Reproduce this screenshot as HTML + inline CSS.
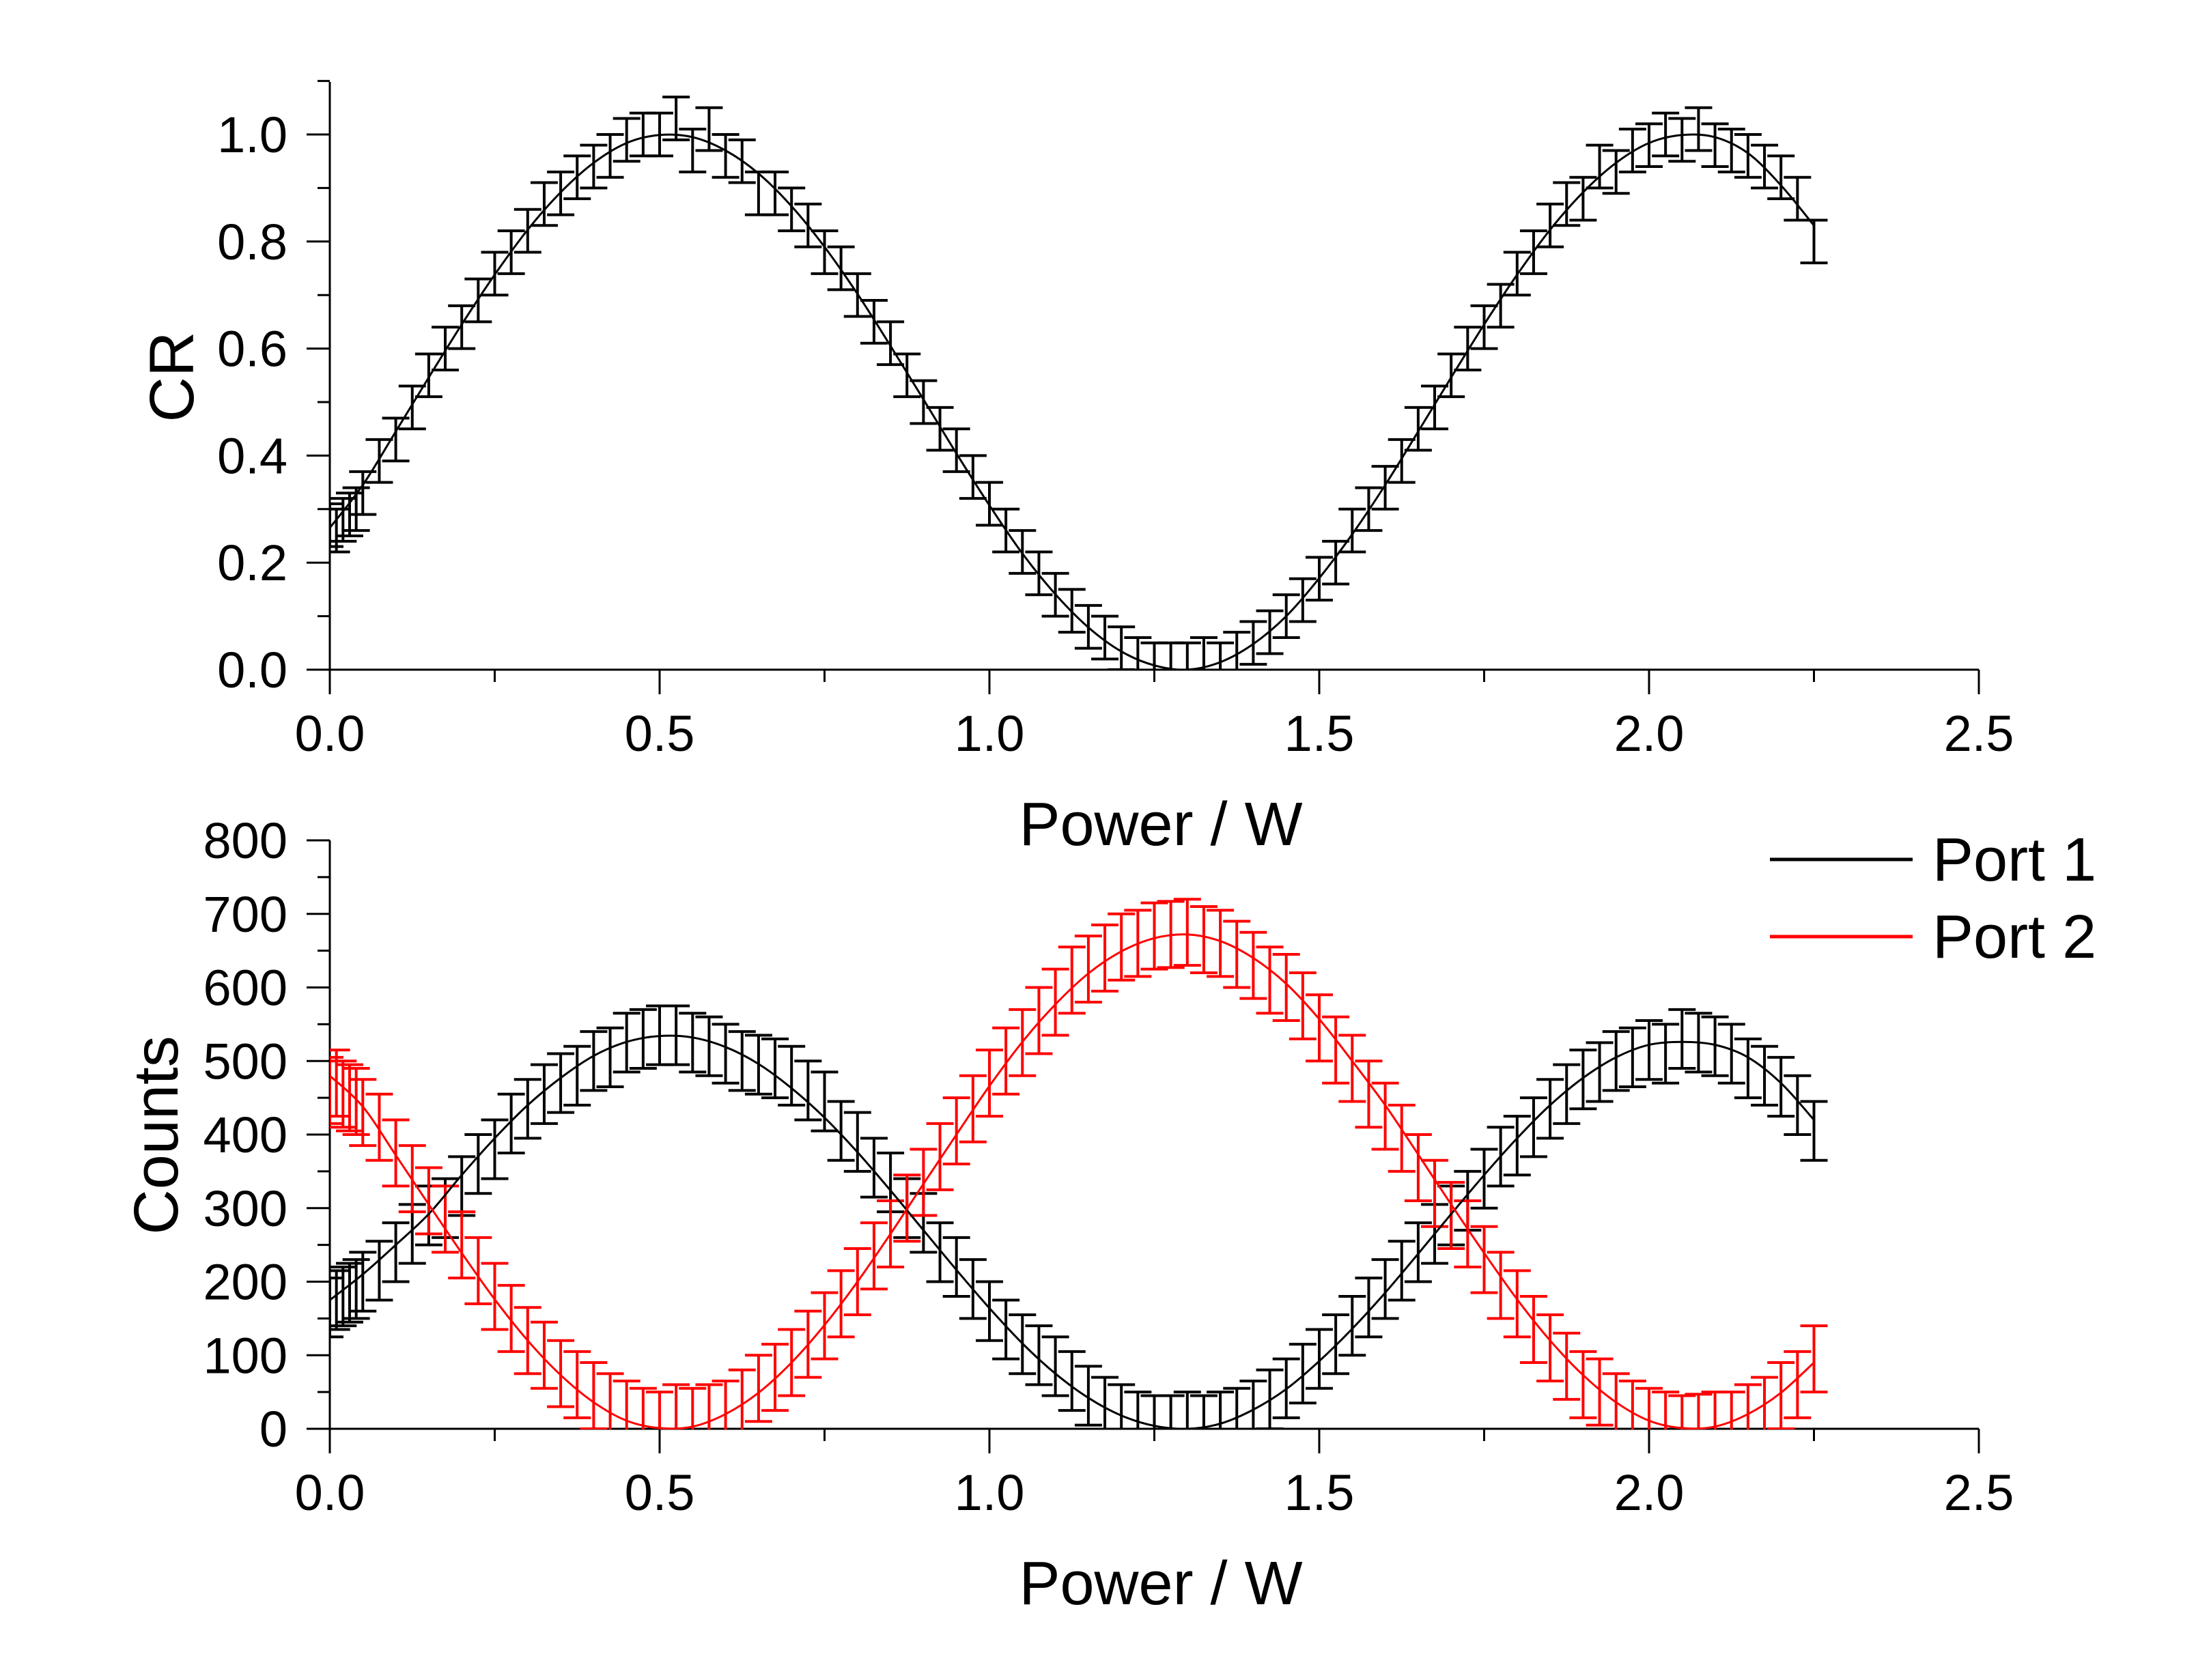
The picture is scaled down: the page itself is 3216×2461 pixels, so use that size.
<!DOCTYPE html>
<html><head><meta charset="utf-8"><style>
html,body{margin:0;padding:0;background:#fff;}
svg{display:block;font-family:"Liberation Sans",Arial,sans-serif;}
</style></head><body>
<svg id="chart" width="3216" height="2461" viewBox="0 0 3216 2461" xmlns="http://www.w3.org/2000/svg">
<rect width="3216" height="2461" fill="#fff"/>
<defs>
<clipPath id="clipTop"><rect x="483" y="100" width="2415" height="882"/></clipPath>
<clipPath id="clipBot"><rect x="483" y="1200" width="2415" height="894"/></clipPath>
</defs>
<g id="topPanel"></g>
<g id="botPanel"></g>
<g>
<line x1="2592" y1="1259" x2="2801" y2="1259" stroke="#000" stroke-width="5"/>
<text x="2830" y="1290" font-size="90">Port 1</text>
<line x1="2592" y1="1372" x2="2801" y2="1372" stroke="#f00" stroke-width="5"/>
<text x="2830" y="1403" font-size="90">Port 2</text>
</g>
</svg>
<script>
const xData=[0,0.01,0.02,0.03,0.04,0.05,0.075,0.1,0.125,0.15,0.175,0.2,0.225,0.25,0.275,0.3,0.325,0.35,0.375,0.4,0.425,0.45,0.475,0.5,0.525,0.55,0.575,0.6,0.625,0.65,0.675,0.7,0.725,0.75,0.775,0.8,0.825,0.85,0.875,0.9,0.925,0.95,0.975,1.0,1.025,1.05,1.075,1.1,1.125,1.15,1.175,1.2,1.225,1.25,1.275,1.3,1.325,1.35,1.375,1.4,1.425,1.45,1.475,1.5,1.525,1.55,1.575,1.6,1.625,1.65,1.675,1.7,1.725,1.75,1.775,1.8,1.825,1.85,1.875,1.9,1.925,1.95,1.975,2.0,2.025,2.05,2.075,2.1,2.125,2.15,2.175,2.2,2.225,2.25];
const crData=[.27,.26,.28,.29,.30,.33,.39,.43,.49,.55,.60,.64,.69,.74,.78,.82,.87,.89,.92,.94,.96,.99,1.00,1.00,1.03,.97,1.01,.96,.95,.89,.89,.86,.83,.78,.75,.70,.65,.61,.55,.50,.45,.41,.36,.31,.26,.22,.18,.14,.11,.08,.06,.04,.02,.01,.01,.01,.02,.01,.03,.05,.07,.10,.13,.17,.20,.26,.30,.34,.39,.45,.49,.55,.60,.64,.68,.74,.78,.83,.87,.88,.94,.93,.97,.98,1.00,.99,1.01,.98,.97,.96,.94,.92,.88,.80];
const crErr=0.04;
const port1Data=[165,175,180,185,190,200,215,240,265,290,300,330,360,380,415,435,455,470,480,500,505,525,530,535,535,525,520,510,500,495,490,480,460,445,405,390,355,335,300,280,240,220,190,160,135,115,100,85,65,45,30,20,10,5,5,10,5,10,15,25,40,55,75,95,115,140,165,190,215,240,265,290,310,340,370,385,410,435,455,475,485,500,505,515,510,530,525,520,510,490,480,465,440,405];
const port1Err=40;
const port2Data=[460,470,455,450,445,430,410,375,340,310,285,250,215,180,150,120,100,75,60,45,30,20,10,5,15,10,15,20,35,55,70,90,115,140,170,200,235,265,300,335,370,405,435,470,500,525,555,580,610,625,640,655,660,670,672,675,665,660,645,630,610,600,575,545,515,490,455,425,395,355,320,290,265,230,195,170,135,110,85,60,50,30,20,10,5,0,2,5,5,15,25,45,60,95];
const port2Err=45;
const xFit=[0,0.05,0.1,0.15,0.2,0.25,0.3,0.35,0.4,0.45,0.5,0.55,0.6,0.65,0.7,0.75,0.8,0.85,0.9,0.95,1.0,1.05,1.1,1.15,1.2,1.25,1.3,1.35,1.4,1.45,1.5,1.55,1.6,1.65,1.7,1.75,1.8,1.85,1.9,1.95,2.0,2.05,2.1,2.15,2.2,2.25];
const crFit=[.265,.345,.445,.546,.645,.738,.822,.892,.947,.984,.999,.995,.970,.927,.866,.790,.702,.605,.505,.404,.307,.217,.141,.079,.034,.008,.000,.014,.048,.100,.171,.253,.345,.445,.546,.645,.738,.822,.892,.947,.984,.999,.995,.965,.905,.83];
const port1Fit=[175,210,250,292,345,395,440,477,507,526,534,532,519,496,463,423,376,324,270,216,164,116,75,42,18,4,0,7,26,54,92,136,185,238,292,345,395,440,477,505,522,526,522,505,470,420];
const port2Fit=[480,438,372,305,239,176,120,73,36,11,1,3,20,49,90,141,200,265,333,400,466,526,577,619,649,667,672,663,640,605,557,500,440,373,305,239,176,120,73,36,11,1,3,20,49,90];
const xTicks=[0,0.5,1.0,1.5,2.0,2.5];
const xTickLabels=["0.0","0.5","1.0","1.5","2.0","2.5"];
const crTicks=[0,0.2,0.4,0.6,0.8,1.0];
const crTickLabels=["0.0","0.2","0.4","0.6","0.8","1.0"];
const countTicks=[0,100,200,300,400,500,600,700,800];
const countTickLabels=["0","100","200","300","400","500","600","700","800"];

const NS="http://www.w3.org/2000/svg";
const X0=483, XS=966;
function sx(v){return X0+v*XS;}
function syTop(v){return 981-v*784;}
function syBot(v){return 2093-v*1.0775;}
function mk(parent,tag,attrs){const e=document.createElementNS(NS,tag);for(const k in attrs)e.setAttribute(k,attrs[k]);parent.appendChild(e);return e;}
function smooth(xs,ys,fx,fy){
  const p=xs.map((x,i)=>[fx(x),fy(ys[i])]);
  let d="M"+p[0][0].toFixed(1)+","+p[0][1].toFixed(1);
  for(let i=0;i<p.length-1;i++){
    const p0=p[i-1]||p[i],p1=p[i],p2=p[i+1],p3=p[i+2]||p2;
    const c1x=p1[0]+(p2[0]-p0[0])/6,c1y=p1[1]+(p2[1]-p0[1])/6;
    const c2x=p2[0]-(p3[0]-p1[0])/6,c2y=p2[1]-(p3[1]-p1[1])/6;
    d+=" C"+c1x.toFixed(1)+","+c1y.toFixed(1)+" "+c2x.toFixed(1)+","+c2y.toFixed(1)+" "+p2[0].toFixed(1)+","+p2[1].toFixed(1);
  }
  return d;
}
function axes(g,fy,yTop,yMinVal,yMaxVal,yTicks,yLabels,yMinorStep,labelY,panel){
  const ax=mk(g,"g",{stroke:"#000","stroke-width":3});
  
  
  const yl=mk(ax,"line",{x1:X0,y1:fy(yMinVal),x2:X0,y2:yTop});
  
  
  const xl=mk(ax,"line",{x1:X0,y1:fy(yMinVal),x2:sx(2.5),y2:fy(yMinVal)});
  
  
  const y0=fy(yMinVal);
  for(let v=0;v<=2.5001;v+=0.25){
    const major=Math.abs(v*2-Math.round(v*2))<1e-6;
    const t=mk(ax,"line",{x1:sx(v),y1:y0,x2:sx(v),y2:y0+(major?36:18)});
    
    
  }
  for(let v=yMinVal;v<=yMaxVal+1e-9;v+=yMinorStep){
    const major=yTicks.some(t=>Math.abs(t-v)<1e-6);
    const t=mk(ax,"line",{x1:X0-(major?34:18),y1:fy(v),x2:X0,y2:fy(v)});
    
    
  }
  xTicks.forEach((v,i)=>{
    const t=mk(g,"text",{x:sx(v),y:labelY,"font-size":74,"text-anchor":"middle"});
    t.textContent=xTickLabels[i];
    
    
  });
  yTicks.forEach((v,i)=>{
    const t=mk(g,"text",{x:421,y:fy(v)+26,"font-size":74,"text-anchor":"end"});
    t.textContent=yLabels[i];
    
    
  });
}
function series(g,xs,ys,err,fy,color,clip,name){
  const sg=mk(g,"g",{stroke:color,"stroke-width":4,fill:"none","clip-path":"url(#"+clip+")"});
  
  
  xs.forEach((x,i)=>{
    const cx=sx(x),a=fy(ys[i]+err),b=fy(ys[i]-err);
    const p=mk(sg,"path",{d:"M"+cx+","+a+"V"+b+"M"+(cx-20)+","+a+"h40M"+(cx-20)+","+b+"h40"});
    
    
  });
}
function fit(g,ys,fy,color,clip,name){
  const p=mk(g,"path",{d:smooth(xFit,ys,sx,fy),stroke:color,"stroke-width":3,fill:"none","clip-path":"url(#"+clip+")"});
  
  
}
const topPanel=document.getElementById('topPanel');
axes(topPanel,syTop,120,0,1.1,crTicks,crTickLabels,0.1,1100,'cr');
series(topPanel,xData,crData,crErr,syTop,"#000","clipTop","cr");
fit(topPanel,crFit,syTop,"#000","clipTop","cr");
let tt=mk(topPanel,"text",{x:1700,y:1238,"font-size":90,"text-anchor":"middle"});tt.textContent="Power / W";


tt=mk(topPanel,"text",{x:0,y:0,"font-size":92,"text-anchor":"middle",transform:"translate(283,552) rotate(-90)"});tt.textContent="CR";



const botPanel=document.getElementById('botPanel');
axes(botPanel,syBot,1231,0,800,countTicks,countTickLabels,50,2212,'counts');
series(botPanel,xData,port1Data,port1Err,syBot,"#000","clipBot","port1");
series(botPanel,xData,port2Data,port2Err,syBot,"#f00","clipBot","port2");
fit(botPanel,port1Fit,syBot,"#000","clipBot","port1");
fit(botPanel,port2Fit,syBot,"#f00","clipBot","port2");
tt=mk(botPanel,"text",{x:1700,y:2350,"font-size":90,"text-anchor":"middle"});tt.textContent="Power / W";


tt=mk(botPanel,"text",{x:0,y:0,"font-size":92,"text-anchor":"middle",transform:"translate(260,1663) rotate(-90)"});tt.textContent="Counts";


</script>
</body></html>
